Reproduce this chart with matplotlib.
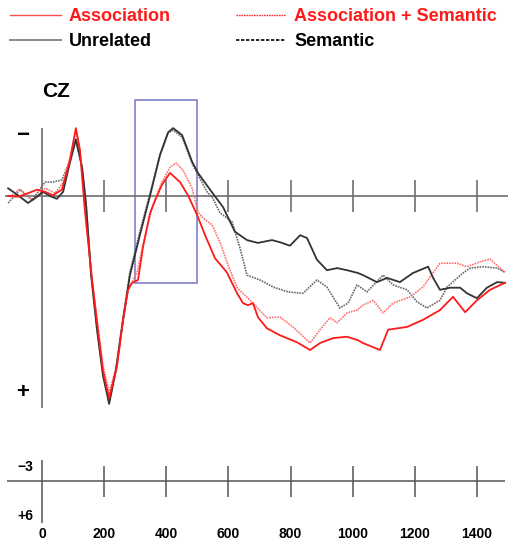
import matplotlib
matplotlib.use("Agg")
import matplotlib.pyplot as plt
from matplotlib.lines import Line2D
from matplotlib.patches import Rectangle

plt.rcParams["font.family"] = ["Liberation Sans", "DejaVu Sans"]
plt.rcParams["font.weight"] = "bold"

# --- grand-average ERP at CZ (time in ms, amplitude in uV, negative up) ---

assoc_t = [-109, -77, -45, -16, 10, 35, 64, 90, 109, 122, 138, 161, 180, 196,
           216, 241, 261, 277, 290, 309, 325, 348, 370, 386, 412, 444, 470,
           499, 525, 557, 595, 628, 647, 663, 679, 695, 724, 766, 821, 863,
           895, 937, 982, 1017, 1033, 1088, 1114, 1175, 1226, 1281, 1323,
           1362, 1400, 1442, 1490]
assoc_v = [0.0, 0.1, -0.4, -0.9, -0.6, -0.1, -0.9, -5.1, -9.7, -6.6, 2.0,
           12.0, 19.1, 24.9, 28.9, 24.4, 17.7, 13.4, 12.4, 12.0, 7.3, 2.4,
           0.0, -1.6, -3.3, -2.0, -0.1, 2.7, 5.6, 8.9, 10.9, 13.9, 15.3,
           15.6, 15.3, 17.3, 18.9, 19.9, 20.9, 22.0, 21.0, 20.3, 20.1, 20.6,
           21.0, 22.0, 19.1, 18.7, 17.7, 16.3, 14.4, 16.6, 14.9, 13.4, 12.4]

unrel_t = [-109, -77, -45, -16, 3, 26, 48, 68, 84, 109, 129, 142, 158, 177,
           196, 216, 238, 261, 283, 315, 348, 380, 406, 422, 451, 483, 502,
           541, 583, 621, 660, 695, 740, 766, 798, 831, 853, 885, 917, 950,
           982, 1017, 1033, 1078, 1111, 1152, 1194, 1243, 1259, 1281, 1313,
           1346, 1368, 1400, 1432, 1465, 1490]
unrel_v = [-1.1, -0.1, 1.0, 0.1, -0.6, 0.0, 0.4, -0.6, -3.7, -8.1, -4.1, 1.3,
           11.3, 19.1, 25.6, 29.7, 24.9, 17.7, 11.3, 5.6, -0.1, -5.9, -9.1,
           -9.7, -8.7, -4.9, -3.3, -0.9, 1.6, 5.1, 6.3, 6.7, 6.3, 6.6, 7.1,
           5.6, 6.0, 9.1, 10.6, 10.3, 10.6, 11.0, 11.3, 12.3, 11.7, 12.3,
           11.0, 10.1, 11.7, 13.4, 13.1, 13.1, 13.9, 14.6, 13.1, 12.3, 12.4]

both_t = [-103, -71, -29, 10, 42, 68, 90, 109, 122, 138, 161, 180, 196, 216,
          241, 261, 277, 306, 332, 357, 386, 412, 431, 454, 483, 502, 525,
          547, 573, 599, 628, 679, 724, 766, 808, 863, 895, 927, 950, 982,
          1014, 1033, 1066, 1098, 1130, 1185, 1226, 1281, 1336, 1368, 1410,
          1442, 1490]
both_v = [0.1, -1.0, 0.6, -1.1, -0.4, -1.9, -5.4, -9.4, -6.6, 1.7, 11.7,
          18.6, 24.1, 28.1, 24.1, 17.4, 13.4, 10.9, 5.6, 1.3, -2.0, -4.1,
          -4.7, -3.7, -1.1, 2.3, 3.4, 4.1, 6.6, 9.9, 13.1, 15.3, 17.4, 17.3,
          18.7, 21.0, 19.1, 17.4, 18.1, 16.7, 16.3, 15.6, 14.9, 16.7, 15.3,
          14.4, 13.0, 9.6, 9.6, 10.1, 9.4, 9.0, 10.9]

sem_t = [-109, -71, -32, 10, 35, 64, 84, 109, 129, 142, 158, 177, 196, 216,
         238, 261, 283, 315, 348, 380, 406, 422, 451, 486, 531, 547, 573,
         612, 637, 660, 702, 744, 792, 840, 885, 917, 959, 985, 1014, 1046,
         1098, 1130, 1175, 1207, 1239, 1281, 1304, 1355, 1378, 1420, 1465,
         1490]
sem_v = [1.0, -0.9, 0.6, -2.0, -2.0, -2.3, -4.4, -7.9, -4.1, 1.3, 10.9, 18.9,
         25.1, 29.4, 24.6, 17.4, 10.9, 5.1, -0.4, -5.9, -9.0, -9.4, -8.4,
         -4.4, -0.6, 0.1, 2.4, 3.7, 7.4, 11.3, 12.0, 13.0, 13.7, 13.9, 12.0,
         13.0, 16.0, 15.3, 12.7, 13.7, 11.3, 12.7, 13.4, 15.1, 16.0, 14.9,
         13.0, 11.0, 10.3, 10.1, 10.3, 10.9]

labels = ["Association", "Unrelated", "Association + Semantic", "Semantic"]
label_colors = ["#ff1a1a", "black", "#ff1a1a", "black"]

time_ticks = [0, 200, 400, 600, 800, 1000, 1200, 1400]
window = (300, 500)          # analysis window (ms)
scale_range = (-3, 6)        # calibration bar (uV)

AXIS = "#6e6e6e"
RED = "#ff1a1a"
PINK = "#ff7070"
DARK = "#333333"
GREY = "#6a6a6a"

# ms per pixel 3.219, uV per pixel 1/7
X_LIM = (-135.2, 1500.0)

fig = plt.figure(figsize=(5.08, 5.40), dpi=100)

ax = fig.add_axes([0, 0, 1, 1])
ax.set_xlim(*X_LIM)
ax.set_ylim(49.14, -28.0)
ax.axis("off")

# baseline, time ticks, and amplitude axis
ax.hlines(0, -119, 1500, color=AXIS, lw=1.2)
ax.vlines(0, -9.7, 30.3, color=AXIS, lw=1.2)
ax.vlines(time_ticks[1:], -2.3, 2.3, color=AXIS, lw=1.2)

ax.add_patch(Rectangle((window[0], -13.7), window[1] - window[0], 26.1,
                       fill=False, edgecolor="#8080c8", lw=1.2))

ax.plot(sem_t, sem_v, color=GREY, lw=1.2, ls=(0, (1, 0.6)))
ax.plot(both_t, both_v, color=PINK, lw=1.2, ls=(0, (1, 0.6)))
ax.plot(unrel_t, unrel_v, color=DARK, lw=1.3)
ax.plot(assoc_t, assoc_v, color=RED, lw=1.3)

ax.text(0, -14.9, "CZ", fontsize=15, ha="left", va="center")
ax.text(-64, -8.7, "\u2212", fontsize=16, ha="center", va="center")
ax.text(-64, 28.0, "+", fontsize=16, ha="center", va="center")

# legend with its own line samples
handles = [
    Line2D([], [], color="#ff5050", lw=1.0),
    Line2D([], [], color="#8a8a8a", lw=1.4),
    Line2D([], [], color="#ff3030", lw=1.0, ls=(0, (1.2, 0.6))),
    Line2D([], [], color="black", lw=1.2, ls=(0, (2, 1))),
]
leg = ax.legend(handles, labels, ncol=2, loc="upper left",
                bbox_to_anchor=(10 / 508, 1 - 8 / 540),
                bbox_transform=fig.transFigure, frameon=False,
                fontsize=13, handlelength=2.8, handletextpad=0.45,
                columnspacing=3.6, labelspacing=0.45, borderpad=0,
                borderaxespad=0)
for txt, c in zip(leg.get_texts(), label_colors):
    txt.set_color(c)

# calibration bar with time scale
ax2 = fig.add_axes([0, 0, 1, 100 / 540])
ax2.set_xlim(*X_LIM)
ax2.set_ylim(8.43, -5.86)
ax2.axis("off")
ax2.patch.set_alpha(0)

ax2.hlines(0, -113, 1490, color="#555555", lw=1.1)
ax2.vlines(0, scale_range[0], scale_range[1], color="#555555", lw=1.1)
ax2.vlines(time_ticks[1:], -2.1, 2.3, color="#555555", lw=1.1)
ax2.text(-28, scale_range[0], "\u22123", fontsize=10, ha="right", va="top")
ax2.text(-28, scale_range[1], "+6", fontsize=10, ha="right", va="bottom")
for t in time_ticks:
    ax2.text(t, 7.6, str(t), fontsize=10, ha="center", va="center")

fig.savefig("out.png", dpi=100)
